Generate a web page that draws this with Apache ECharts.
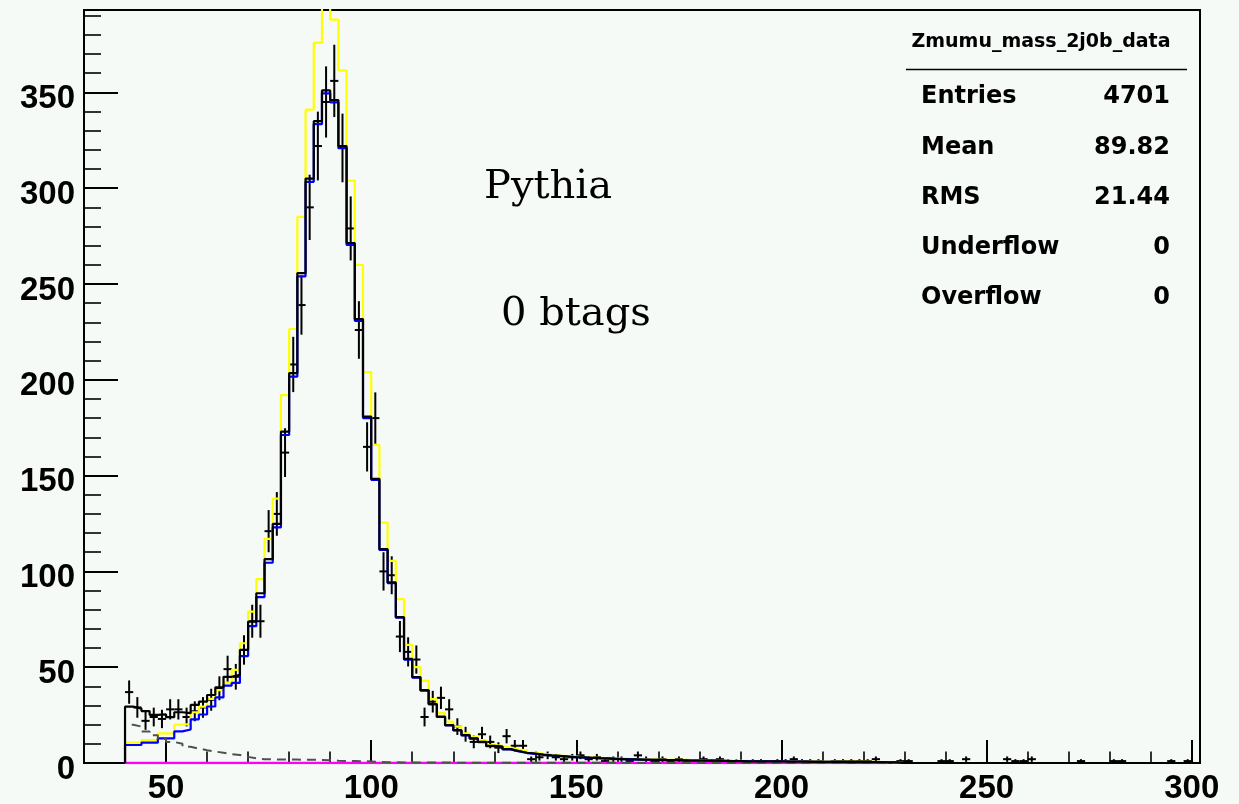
<!DOCTYPE html>
<html>
<head>
<meta charset="utf-8">
<title>Zmumu_mass_2j0b_data</title>
<script src="https://cdn.jsdelivr.net/npm/echarts@6/dist/echarts.min.js"></script>
<style>
  html, body { margin: 0; padding: 0; background: #f6faf7; }
  #chart { width: 1239px; height: 804px; }
</style>
</head>
<body>
<div id="chart"></div>
<script>
// Dimuon invariant mass, 2 jets / 0 b-tags, 2 GeV bins from 40 to 300 GeV
const binWidth = 2;
const firstBinLow = 40;
const nBins = 130;
const binLow = Array.from({ length: nBins }, (_, i) => firstBinLow + binWidth * i);

// Z+jets simulation (blue)
const zjetsMC = [
  9.4, 9.4, 10.6, 10.6, 12.9, 12.9, 16.5, 17.5, 22.8, 25.3,
  29.5, 34.2, 40.4, 41.8, 55.8, 71.4, 86.6, 104.5, 123.0, 171.2,
  201.7, 254.0, 303.3, 333.4, 349.5, 344.8, 320.9, 270.4, 230.8, 180.0,
  147.8, 111.2, 93.9, 75.8, 54.0, 44.6, 37.8, 30.6, 24.0, 19.6,
  17.0, 14.4, 12.7, 10.9, 8.8, 8.4, 7.1, 6.1, 5.2, 4.8,
  4.3, 3.9, 3.6, 3.3, 3.0, 2.8, 2.6, 2.4, 2.3, 2.1,
  2.0, 1.9, 1.8, 1.7, 1.6, 1.5, 1.5, 1.4, 1.3, 1.3,
  1.2, 1.2, 1.1, 1.0, 1.0, 0.9, 0.9, 0.8, 0.8, 0.8,
  0.7, 0.7, 0.7, 0.6, 0.6, 0.6, 0.6, 0.5, 0.5, 0.5,
  0.5, 0.5, 0.4, 0.4, 0, 0, 0, 0, 0, 0,
  0, 0, 0, 0, 0, 0, 0, 0, 0, 0,
  0, 0, 0, 0, 0, 0, 0, 0, 0, 0,
  0, 0, 0, 0, 0, 0, 0, 0, 0, 0
];

// falling background (grey dashed)
const bkgMC = [
  20.0, 19.0, 16.5, 14.5, 12.5, 11.0, 10.0, 8.5, 7.5, 6.7,
  6.0, 5.3, 4.6, 4.2, 3.2, 2.4, 2.0, 1.9, 1.8, 1.8,
  1.8, 1.7, 1.7, 1.6, 1.5, 1.2, 1.1, 1.0, 0.9, 0.8,
  0.5, 0.4, 0.35, 0.3, 0.3, 0.25, 0.2, 0.2, 0.2, 0.2,
  0.15, 0.15, 0.15, 0.15, 0.15, 0.15, 0.15, 0.15, 0.15, 0.15,
  0.1, 0.1, 0.1, 0.1, 0.1, 0.1, 0.1, 0.1, 0.1, 0.1,
  0, 0, 0, 0, 0, 0, 0, 0, 0, 0,
  0, 0, 0, 0, 0, 0, 0, 0, 0, 0,
  0, 0, 0, 0, 0, 0, 0, 0, 0, 0,
  0, 0, 0, 0, 0, 0, 0, 0, 0, 0,
  0, 0, 0, 0, 0, 0, 0, 0, 0, 0,
  0, 0, 0, 0, 0, 0, 0, 0, 0, 0,
  0, 0, 0, 0, 0, 0, 0, 0, 0, 0
];

// small background (magenta), bins 40..226
const smallBkgMC = [
  0, 0, 0, 0, 0, 0, 0, 0, 0, 0,
  0, 0, 0, 0, 0, 0, 0, 0, 0, 0,
  0, 0, 0, 0, 0, 0, 0, 0, 0, 0,
  0, 0, 0, 0, 0, 0, 0, 0, 0, 0,
  0, 0, 0, 0, 0, 0, 0, 0, 0, 0,
  0, 0, 0, 0, 0, 0, 0, 0, 0, 0,
  0, 0, 0, 0, 0, 0, 0, 0, 0, 0,
  0, 0, 0, 0, 0, 0, 0, 0, 0, 0,
  0, 0, 0, 0, 0, 0, 0, 0, 0, 0,
  0, 0, 0
];

// Pythia prediction (yellow)
const pythiaMC = [
  10.6, 10.6, 12.0, 12.0, 15.5, 15.5, 20.0, 20.3, 26.5, 29.4,
  33.5, 38.0, 42.0, 48.6, 62.5, 79.0, 96.0, 117.0, 138.0, 192.0,
  226.5, 285.0, 341.0, 376.0, 395.0, 388.0, 361.5, 304.0, 260.0, 204.0,
  166.0, 125.5, 105.5, 85.5, 61.6, 50.0, 43.0, 33.3, 26.0, 21.6,
  19.0, 15.5, 13.7, 12.0, 9.4, 9.0, 8.0, 7.0, 6.6, 5.4,
  4.8, 4.3, 3.9, 3.6, 3.3, 3.0, 2.8, 2.6, 2.4, 2.3,
  2.2, 2.1, 2.0, 1.9, 1.8, 1.7, 1.7, 1.6, 1.5, 1.5,
  1.4, 1.3, 1.3, 1.2, 1.1, 1.1, 1.0, 1.0, 0.9, 0.9,
  0.9, 0.8, 0.8, 0.8, 0.7, 0.7, 0.7, 0.6, 0.6, 0.6,
  0.6, 0.5, 0.5, 0.5, 0, 0, 0, 0, 0, 0,
  0, 0, 0, 0, 0, 0, 0, 0, 0, 0,
  0, 0, 0, 0, 0, 0, 0, 0, 0, 0,
  0, 0, 0, 0, 0, 0, 0, 0, 0, 0
];

// observed events per bin
const dataCounts = [
  37, 29, 22, 24, 23, 28, 28, 24, 27, 29,
  33, 39, 49, 45, 59, 74, 74, 121, 130, 162,
  208, 239, 290, 322, 345, 356, 321, 279, 226, 165,
  180, 100, 98, 66, 58, 54, 24, 32, 34, 28,
  19, 15, 11, 15, 11, 8, 14, 9, 9, 2,
  3, 4, 3, 2, 3, 4, 2, 3, 1, 2,
  2, 1, 4, 2, 1, 2, 1, 2, 1, 1,
  2, 1, 2, 1, 1, 0, 1, 1, 0, 1,
  1, 2, 1, 1, 1, 0, 1, 1, 1, 1,
  1, 2, 0, 0, 1, 1, 0, 0, 0, 1,
  1, 0, 2, 0, 0, 0, 0, 2, 1, 1,
  2, 0, 0, 0, 0, 0, 1, 0, 0, 0,
  1, 1, 0, 0, 0, 0, 0, 1, 0, 1
];

const xMajorTicks = [50, 100, 150, 200, 250, 300];
const yMajorTicks = [0, 50, 100, 150, 200, 250, 300, 350];

const statsTitle = 'Zmumu_mass_2j0b_data';
const statsRows = [
  ['Entries', '4701'],
  ['Mean', '89.82'],
  ['RMS', '21.44'],
  ['Underflow', '0'],
  ['Overflow', '0']
];

// stacked total of the simulated components (black)
const totalMC = binLow.map((_, i) =>
  zjetsMC[i] + bkgMC[i] + (i < smallBkgMC.length ? smallBkgMC[i] : 0));

// histogram outline as step points: rise at the first edge, fall at the last
function histPoints(values) {
  const pts = [[binLow[0], 0]];
  values.forEach((v, i) => pts.push([binLow[i], v]));
  pts.push([binLow[values.length - 1] + binWidth, 0]);
  return pts;
}

function histSeries(name, values, color, width, dashed) {
  return {
    name: name,
    type: 'line',
    step: 'end',
    symbol: 'none',
    clip: true,
    silent: true,
    xAxisIndex: 0,
    yAxisIndex: 0,
    data: histPoints(values),
    lineStyle: { color: color, width: width, type: dashed ? [9, 6] : 'solid' }
  };
}

const dataPoints = binLow.map((x, i) => [x + binWidth / 2, dataCounts[i]]);

const axisFont = {
  fontFamily: 'Liberation Sans, Arial, sans-serif',
  fontWeight: 'bold',
  fontSize: 33,
  color: '#000'
};

const gridRect = { left: 84, top: 10, width: 1116, height: 753 };

const statsFont = 'bold 24px "DejaVu Sans", sans-serif';
const statsGraphics = [
  {
    type: 'text', x: 1041, y: 42, z: 10,
    style: { text: statsTitle, font: 'bold 19px "DejaVu Sans", sans-serif', fill: '#000',
             textAlign: 'center', textVerticalAlign: 'middle' }
  },
  {
    type: 'line', z: 10,
    shape: { x1: 906, y1: 69.5, x2: 1187, y2: 69.5 },
    style: { stroke: '#000', lineWidth: 1.5 }
  }
];
statsRows.forEach((row, k) => {
  const y = 97 + k * 50.3;
  statsGraphics.push({
    type: 'text', x: 921, y: y, z: 10,
    style: { text: row[0], font: statsFont, fill: '#000', textAlign: 'left', textVerticalAlign: 'middle' }
  });
  statsGraphics.push({
    type: 'text', x: 1170, y: y, z: 10,
    style: { text: row[1], font: statsFont, fill: '#000', textAlign: 'right', textVerticalAlign: 'middle' }
  });
});

const chart = echarts.init(document.getElementById('chart'), null, { renderer: 'canvas' });

chart.setOption({
  animation: false,
  backgroundColor: '#f6faf7',
  grid: [
    Object.assign({ show: true, borderColor: '#000', borderWidth: 2, backgroundColor: 'transparent',
                    containLabel: false, outerBoundsMode: 'none' }, gridRect),
    Object.assign({ show: false, containLabel: false, outerBoundsMode: 'none' }, gridRect)
  ],
  xAxis: [
    {
      gridIndex: 0, type: 'value', min: 30, max: 302,
      axisLine: { show: true, onZero: false, lineStyle: { color: '#000', width: 2 } },
      splitLine: { show: false },
      axisTick: { show: true, inside: true, length: 23, customValues: xMajorTicks,
                  lineStyle: { color: '#000', width: 2 } },
      axisLabel: Object.assign({ customValues: xMajorTicks, margin: 9,
                                 formatter: v => (v % 50 === 0 ? String(v) : '') }, axisFont)
    },
    {
      gridIndex: 1, type: 'value', min: 30, max: 302, interval: 10,
      axisLine: { show: false, onZero: false },
      splitLine: { show: false },
      axisTick: { show: true, inside: true, length: 11.5, lineStyle: { color: '#000', width: 1.6 } },
      axisLabel: { show: false }
    }
  ],
  yAxis: [
    {
      gridIndex: 0, type: 'value', min: 0, max: 393,
      axisLine: { show: true, onZero: false, lineStyle: { color: '#000', width: 2 } },
      splitLine: { show: false },
      axisTick: { show: true, inside: true, length: 34, customValues: yMajorTicks,
                  lineStyle: { color: '#000', width: 2 } },
      axisLabel: Object.assign({ customValues: yMajorTicks, margin: 9,
                                 verticalAlign: 'top', lineHeight: 13,
                                 formatter: v => (v % 50 === 0 ? String(v) : '') }, axisFont)
    },
    {
      gridIndex: 1, type: 'value', min: 0, max: 393, interval: 10,
      axisLine: { show: false, onZero: false },
      splitLine: { show: false },
      axisTick: { show: true, inside: true, length: 17, lineStyle: { color: '#000', width: 1.6 } },
      axisLabel: { show: false }
    }
  ],
  series: [
    histSeries('Pythia', pythiaMC, '#ffff00', 2.2, false),
    histSeries('Z+jets', zjetsMC, '#0000ff', 2.2, false),
    histSeries('small background', smallBkgMC, '#ff00ff', 2.5, false),
    histSeries('background', bkgMC, '#505050', 2, true),
    histSeries('total', totalMC, '#000000', 2.2, false),
    {
      name: 'data',
      type: 'custom',
      xAxisIndex: 0,
      yAxisIndex: 0,
      clip: true,
      silent: true,
      data: dataPoints,
      encode: { x: 0, y: 1 },
      renderItem: function (params, api) {
        const x = api.value(0);
        const n = api.value(1);
        if (!(n > 0)) return null;
        const err = Math.sqrt(n);
        const mid = api.coord([x, n]);
        const left = api.coord([x - binWidth / 2, n]);
        const right = api.coord([x + binWidth / 2, n]);
        const top = api.coord([x, n + err]);
        const bottom = api.coord([x, Math.max(0, n - err)]);
        const st = { stroke: '#000', lineWidth: 2 };
        return {
          type: 'group',
          children: [
            { type: 'line', shape: { x1: left[0], y1: mid[1], x2: right[0], y2: mid[1] }, style: st },
            { type: 'line', shape: { x1: mid[0], y1: top[1], x2: mid[0], y2: bottom[1] }, style: st }
          ]
        };
      }
    }
  ],
  graphic: [
    {
      type: 'text', x: 484, y: 188, z: 10,
      style: { text: 'Pythia', font: '40px "DejaVu Serif", serif', fill: '#000',
               textAlign: 'left', textVerticalAlign: 'middle' }
    },
    {
      type: 'text', x: 501, y: 315, z: 10,
      style: { text: '0 btags', font: '40px "DejaVu Serif", serif', fill: '#000',
               textAlign: 'left', textVerticalAlign: 'middle' }
    }
  ].concat(statsGraphics)
});
</script>
</body>
</html>
